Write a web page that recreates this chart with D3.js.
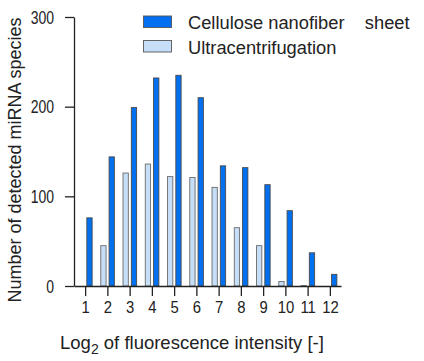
<!DOCTYPE html>
<html>
<head>
<meta charset="utf-8">
<script src="https://cdn.jsdelivr.net/npm/d3@7"></script>
<style>
  body { margin: 0; background: #fff; }
  text { font-family: "Liberation Sans", Arial, sans-serif; fill: #222; white-space: pre; }
</style>
</head>
<body>
<script>
const bins = [1, 2, 3, 4, 5, 6, 7, 8, 9, 10, 11, 12];
const cnfSheet = [76, 144, 199, 232, 235, 210, 134, 132, 113, 84, 37, 13];
const ultracentrifugation = [0, 45, 126, 136, 122, 121, 110, 65, 45, 5, 0.5, 0];
const yTicks = [0, 100, 200, 300];
const seriesNames = ["Cellulose nanofiber    sheet", "Ultracentrifugation"];

const width = 424, height = 361;
const x0 = 74, x1 = 341, y0 = 286, y1 = 17;

const svg = d3
  .select("body")
  .append("svg")
  .attr("width", width)
  .attr("height", height);

const x = d3.scaleLinear().domain([0.5, 12.5]).range([x0, x1]);
const y = d3.scaleLinear().domain([0, 300]).range([y0, y1]);

const barW = 5.3;
const dark = "#0070f0", light = "#c6def8", edge = "#4a4a4a";

// Ultracentrifugation bars (left of tick)
svg
  .append("g")
  .selectAll("rect")
  .data(bins.map((b, i) => ({ b, v: ultracentrifugation[i] })))
  .join("rect")
  .attr("x", (d) => x(d.b) - barW - 1.3)
  .attr("y", (d) => y(d.v))
  .attr("width", barW)
  .attr("height", (d) => y(0) - y(d.v))
  .attr("fill", light)
  .attr("stroke", "#6a6a6a")
  .attr("stroke-width", 0.9);

// CNF sheet bars (right of tick)
svg
  .append("g")
  .selectAll("rect")
  .data(bins.map((b, i) => ({ b, v: cnfSheet[i] })))
  .join("rect")
  .attr("x", (d) => x(d.b) + 1.7)
  .attr("y", (d) => y(d.v))
  .attr("width", barW)
  .attr("height", (d) => y(0) - y(d.v))
  .attr("fill", dark)
  .attr("stroke", edge)
  .attr("stroke-width", 0.9);

// axes
const yAxis = svg
  .append("g")
  .attr("transform", `translate(${x0},0)`)
  .call(d3.axisLeft(y).tickValues(yTicks).tickSize(9).tickPadding(11).tickSizeOuter(0));

const xAxis = svg
  .append("g")
  .attr("transform", `translate(0,${y0})`)
  .call(d3.axisBottom(x).tickValues(bins).tickSize(10).tickPadding(5).tickSizeOuter(0).tickFormat(d3.format("d")));

[yAxis, xAxis].forEach((a) => {
  a.select(".domain").attr("stroke", "#222").attr("stroke-width", 1.3);
  a.selectAll(".tick line").attr("stroke", "#222").attr("stroke-width", 1.3);
  a.selectAll(".tick text").attr("fill", "#222");
});

// tick labels in the source are a little narrow
yAxis
  .selectAll(".tick text")
  .style("font-size", "17.5px")
  .attr("x", 0)
  .attr("transform", "translate(-20,0.5) scale(0.8,1)");
xAxis
  .selectAll(".tick text")
  .style("font-size", "16.5px")
  .attr("transform", "scale(0.9,1)");

// axis titles
svg
  .append("text")
  .attr("transform", `translate(21,160) rotate(-90)`)
  .attr("text-anchor", "middle")
  .style("font-size", "18px")
  .text("Number of detected miRNA species");

const xt = svg
  .append("text")
  .attr("x", 60)
  .attr("y", 349)
  .style("font-size", "18.5px");
xt.append("tspan").text("Log");
xt.append("tspan").attr("dy", 5).style("font-size", "14px").text("2");
xt.append("tspan").attr("dy", -5).text(" of fluorescence intensity [-]");

// legend
const legend = svg.append("g");
[dark, light].forEach((c, i) => {
  const ly = 16 + i * 24.5;
  legend
    .append("rect")
    .attr("x", 143.5)
    .attr("y", ly)
    .attr("width", 28)
    .attr("height", 11.5)
    .attr("fill", c)
    .attr("stroke", "#555")
    .attr("stroke-width", 0.9);
  legend
    .append("text")
    .attr("x", 188)
    .attr("y", ly + 13)
    .style("font-size", "18.3px")
    .text(seriesNames[i]);
});
</script>
</body>
</html>
